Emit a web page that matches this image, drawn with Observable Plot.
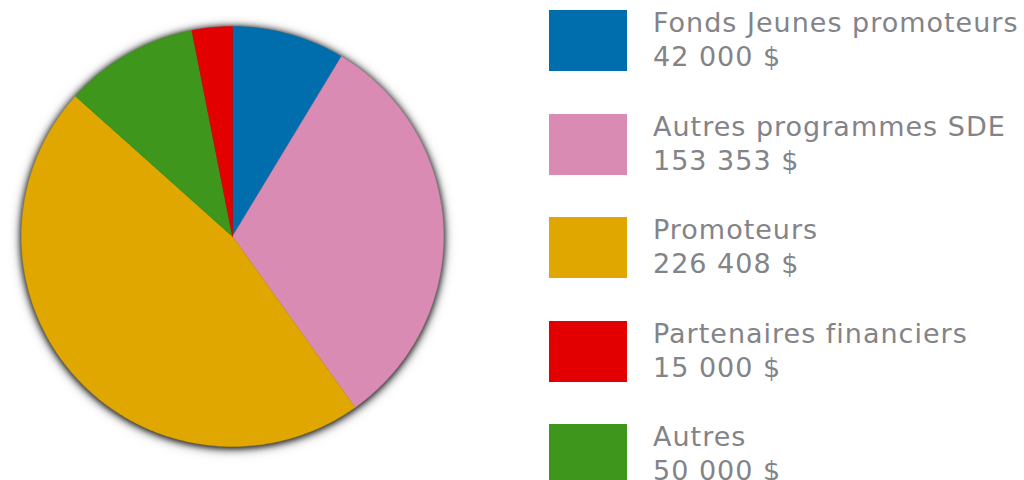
<!DOCTYPE html>
<html><head><meta charset="utf-8">
<script src="https://cdn.jsdelivr.net/npm/d3@7"></script>
<script src="https://cdn.jsdelivr.net/npm/@observablehq/plot@0.6"></script>
<style>
html,body{margin:0;padding:0;background:#fff;}
#wrap{position:relative;width:1024px;height:480px;overflow:hidden;font-family:"DejaVu Sans",sans-serif;}
#pie{position:absolute;left:0;top:0;}
#pie svg g[aria-label="line"]{filter:drop-shadow(0px 1px 3px rgba(0,0,0,0.85)) drop-shadow(0px 1px 5px rgba(40,40,40,0.7));}
.item{position:absolute;left:549px;height:70px;}
.sw{position:absolute;left:0;top:0;width:78px;height:61px;}
.lab{position:absolute;left:104px;top:-4px;white-space:nowrap;color:#838388;font-size:27px;line-height:34px;letter-spacing:1px;}
</style></head>
<body><div id="wrap"><div id="pie"></div><div id="legend"></div></div>
<script>
// Data
const categories = ["Fonds Jeunes promoteurs","Autres programmes SDE","Promoteurs","Partenaires financiers","Autres"];
const values = [42000,153353,226408,15000,50000];
const valueLabels = ["42 000 $","153 353 $","226 408 $","15 000 $","50 000 $"];
const colors = ["#006dac","#da8bb3","#dfa700","#e20000","#3f961d"];
const pieOrder = ["Fonds Jeunes promoteurs","Autres programmes SDE","Promoteurs","Autres","Partenaires financiers"];

// Build slice outlines with d3.pie (geometry only)
const rows = pieOrder.map(c => ({cat:c, value: values[categories.indexOf(c)]}));
const arcs = d3.pie().sort(null).value(d => d.value)(rows);
const pts = [];
for (const a of arcs) {
  pts.push({cat:a.data.cat, x:0, y:0});
  const n = Math.max(2, Math.ceil((a.endAngle - a.startAngle) * 180 / Math.PI));
  for (let i = 0; i <= n; i++) {
    const t = a.startAngle + (a.endAngle - a.startAngle) * i / n;
    pts.push({cat:a.data.cat, x:Math.sin(t), y:Math.cos(t)});
  }
  pts.push({cat:a.data.cat, x:0, y:0});
}

const pie = Plot.plot({
  width: 470, height: 480,
  margin: 0,
  x: {domain:[-1,1], range:[21,443], axis:null},
  y: {domain:[-1,1], range:[446,26], axis:null},
  color: {domain: categories, range: colors},
  marks: [
    Plot.line(pts, {x:"x", y:"y", z:"cat", fill:"cat", stroke:"cat", strokeWidth:0.5, curve:"linear"})
  ]
});
document.getElementById("pie").appendChild(pie);

// Legend
const tops = [10,113.5,217,320.5,424];
const leg = document.getElementById("legend");
categories.forEach((c,i) => {
  const it = document.createElement("div");
  it.className = "item"; it.style.top = tops[i] + "px";
  const sw = document.createElement("div"); sw.className = "sw"; sw.style.background = colors[i];
  const lab = document.createElement("div"); lab.className = "lab";
  lab.innerHTML = c + "<br>" + valueLabels[i];
  it.appendChild(sw); it.appendChild(lab); leg.appendChild(it);
});
</script></body></html>
